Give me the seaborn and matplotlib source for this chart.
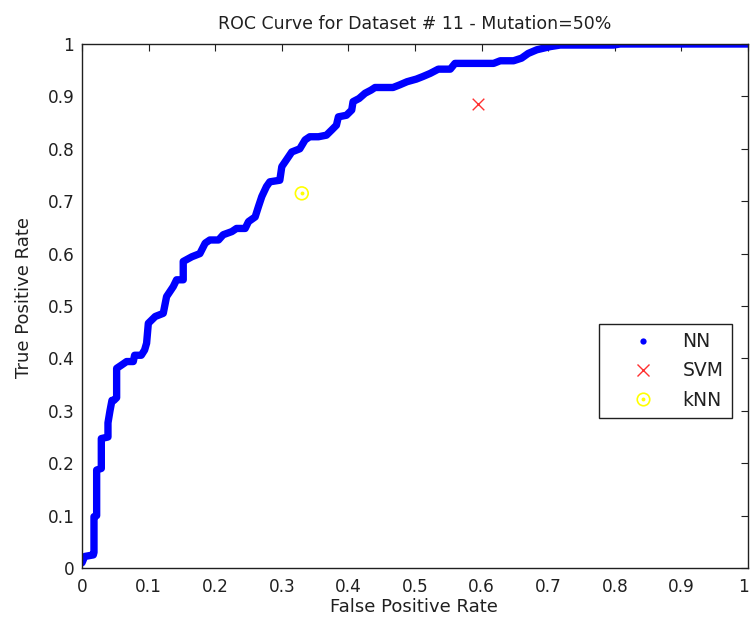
import matplotlib
matplotlib.use("Agg")
import matplotlib.pyplot as plt
import matplotlib.transforms as mtransforms
from matplotlib.lines import Line2D
import seaborn as sns

# ---- data ----
nn_fpr = [0, 0.004, 0.017, 0.018, 0.018, 0.022, 0.022, 0.029, 0.029, 0.039, 0.039,
          0.042, 0.045, 0.048, 0.052, 0.052, 0.059, 0.067, 0.077, 0.079, 0.089, 0.094,
          0.097, 0.0996, 0.11, 0.122, 0.127, 0.137, 0.142, 0.152, 0.152, 0.165, 0.177,
          0.185, 0.192, 0.205, 0.212, 0.225, 0.232, 0.245, 0.25, 0.26, 0.265, 0.27,
          0.277, 0.282, 0.297, 0.30, 0.307, 0.315, 0.327, 0.335, 0.342, 0.355, 0.367,
          0.375, 0.382, 0.385, 0.397, 0.405, 0.407, 0.416, 0.425, 0.434, 0.44, 0.467,
          0.477, 0.488, 0.502, 0.512, 0.523, 0.535, 0.553, 0.56, 0.583, 0.618, 0.628,
          0.648, 0.66, 0.67, 0.683, 0.693, 0.703, 0.718, 0.798, 0.808, 1.0]
nn_tpr = [0.01, 0.022, 0.025, 0.03, 0.098, 0.10, 0.187, 0.19, 0.247, 0.25, 0.277,
          0.30, 0.32, 0.32, 0.325, 0.381, 0.387, 0.394, 0.394, 0.406, 0.406, 0.416,
          0.429, 0.467, 0.48, 0.486, 0.518, 0.537, 0.55, 0.55, 0.585, 0.594, 0.60,
          0.62, 0.626, 0.626, 0.636, 0.642, 0.648, 0.648, 0.661, 0.67, 0.69, 0.709,
          0.728, 0.737, 0.74, 0.766, 0.779, 0.794, 0.80, 0.817, 0.823, 0.823, 0.826,
          0.836, 0.845, 0.861, 0.864, 0.874, 0.89, 0.896, 0.906, 0.912, 0.917, 0.917,
          0.922, 0.928, 0.933, 0.938, 0.944, 0.952, 0.952, 0.963, 0.963, 0.963, 0.968,
          0.968, 0.973, 0.982, 0.989, 0.992, 0.995, 0.998, 0.998, 1.0, 1.0]
svm_fpr = [0.595]
svm_tpr = [0.885]
knn_fpr = [0.33]
knn_tpr = [0.715]

legend_labels = ["NN", "SVM", "kNN"]
xticks = [0, 0.1, 0.2, 0.3, 0.4, 0.5, 0.6, 0.7, 0.8, 0.9, 1]
yticks = [0, 0.1, 0.2, 0.3, 0.4, 0.5, 0.6, 0.7, 0.8, 0.9, 1]
tick_labels = ["0", "0.1", "0.2", "0.3", "0.4", "0.5", "0.6", "0.7", "0.8", "0.9", "1"]
title = "ROC Curve for Dataset # 11 - Mutation=50%"
xlabel = "False Positive Rate"
ylabel = "True Positive Rate"

# ---- style ----
sns.set_theme(style="white")
plt.rcParams["font.family"] = ["DejaVu Sans"]
FS_TICK = 12.2
FS_LAB = 13.0
FS_TITLE = 12.5
FS_LEG = 13.5
TXT = "#202020"

fig = plt.figure(figsize=(7.51, 6.24), dpi=100)
ax = fig.add_axes([82 / 751, 56 / 624, 666 / 751, 524 / 624])

sns.lineplot(x=nn_fpr, y=nn_tpr, sort=False, estimator=None, ax=ax,
             color="#0000ff", lw=5.3, solid_joinstyle="round",
             solid_capstyle="round", legend=False)
sns.scatterplot(x=svm_fpr, y=svm_tpr, ax=ax, marker="x", color="#ff3030",
                s=70, linewidth=1.0, legend=False, zorder=5)
sns.scatterplot(x=knn_fpr, y=knn_tpr, ax=ax, marker="o", facecolor="none",
                edgecolor="#ffff00", s=85, linewidth=1.2, legend=False, zorder=5)
sns.scatterplot(x=knn_fpr, y=knn_tpr, ax=ax, marker="o", color="#ffff00",
                s=8, linewidth=0, legend=False, zorder=6)

ax.set_xlim(0, 1)
ax.set_ylim(0, 1)
ax.set_xticks(xticks)
ax.set_xticklabels(tick_labels)
ax.set_yticks(yticks)
ax.set_yticklabels(tick_labels)
ax.tick_params(direction="in", length=5, width=0.8, color=TXT,
               top=True, right=True, labelsize=FS_TICK, labelcolor=TXT)
ax.tick_params(axis="x", pad=7)
ax.tick_params(axis="y", pad=5.5)
# keep the last x tick label inside the figure
last = ax.get_xticklabels()[-1]
last.set_transform(last.get_transform() +
                   mtransforms.ScaledTranslation(-4 / 100, 0, fig.dpi_scale_trans))
for sp in ax.spines.values():
    sp.set_visible(True)
    sp.set_color(TXT)
    sp.set_linewidth(1.0)

ax.set_title(title, fontsize=FS_TITLE, color=TXT, pad=11)
ax.set_xlabel(xlabel, fontsize=FS_LAB, color=TXT)
ax.set_ylabel(ylabel, fontsize=FS_LAB, color=TXT)
ax.xaxis.set_label_coords(0.499, -0.058)
ax.yaxis.set_label_coords(-0.0736, 0.516)

h_nn = Line2D([], [], ls="none", marker="o", markersize=4.5, color="#0000ff",
              markeredgewidth=0)
h_svm = Line2D([], [], ls="none", marker="x", markersize=8, color="#ff3030",
               markeredgewidth=1.0)
h_knn_o = Line2D([], [], ls="none", marker="o", markersize=9,
                 markerfacecolor="none", markeredgecolor="#ffff00",
                 markeredgewidth=1.2)
h_knn_d = Line2D([], [], ls="none", marker="o", markersize=2.8, color="#ffff00",
                 markeredgewidth=0)
leg = ax.legend([h_nn, h_svm, (h_knn_o, h_knn_d)], legend_labels,
                loc="lower right", bbox_to_anchor=(0.976, 0.286),
                fontsize=FS_LEG, frameon=True, fancybox=False, edgecolor=TXT,
                framealpha=1, borderpad=0.45, labelspacing=0.55,
                handlelength=3.8, handletextpad=0.2, borderaxespad=0)
leg.get_frame().set_linewidth(1.0)
for t in leg.get_texts():
    t.set_color(TXT)

fig.savefig("out.png", dpi=100)
